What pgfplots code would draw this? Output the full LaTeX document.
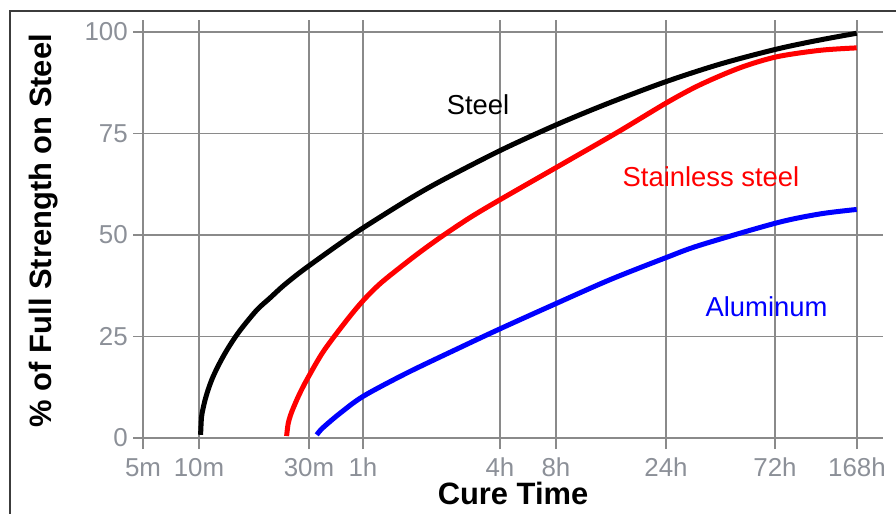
\documentclass[border=0pt]{standalone}
\usepackage{fontspec}
\setmainfont{Liberation Sans}
\usepackage{pgfplots}
\pgfplotsset{compat=1.18}
\definecolor{gridgray}{RGB}{138,138,138}
\definecolor{ticktext}{RGB}{140,144,152}
\definecolor{framegray}{RGB}{60,60,60}

\begin{document}
\begin{tikzpicture}
\useasboundingbox (0,0) rectangle (896bp,-514bp);
\draw[framegray, line width=1.5bp] (10bp,-520bp) -- (10bp,-11bp) -- (900bp,-11bp);
\begin{axis}[
    at={(133bp,-449bp)}, anchor=south west,
    scale only axis,
    x=1bp, y=4.06bp,
    xmin=133, xmax=883,
    ymin=-2.7, ymax=103,
    axis line style={draw=none},
    major tick length=0pt,
    grid=major,
    major grid style={gridgray, line width=1.3bp},
    xtick={143,199,309,363,500,556,666,775,857},
    xticklabels={5m,10m,30m,1h,4h,8h,24h,72h,168h},
    ytick={0,25,50,75,100},
    /pgf/number format/assume math mode=true,
    xticklabel style={anchor=base, inner sep=0pt, yshift=-27bp, text=ticktext,
        font=\fontsize{26}{26}\selectfont},
    yticklabel style={anchor=east, inner sep=0pt, xshift=-5bp, text=ticktext,
        font=\fontsize{26}{26}\selectfont},
    xlabel={Cure Time},
    ylabel={\% of Full Strength on Steel},
    xlabel style={at={(axis description cs:0.5067,-0.1282)}, anchor=base,
        inner sep=0pt, font=\bfseries\fontsize{31}{31}\selectfont},
    ylabel style={at={(axis description cs:-0.108,0.509)}, anchor=base,
        inner sep=0pt, font=\bfseries\fontsize{31}{31}\selectfont},
]

% Steel
\addplot[black, line width=5bp, smooth] coordinates {
    (200.6,0.8) (201.5,5.1) (203,7.2) (205,9.3) (208,11.8) (212,14.5)
    (217,17.2) (223,20.0) (230,22.9) (240,26.5) (256.7,31.5) (270,34.5)
    (283.3,37.5) (300,40.8) (320,44.4) (340,47.9) (363.3,51.8)
    (406.7,58.5) (440,63.2) (500,70.8) (556.7,77.2) (606.7,82.3)
    (665,87.7) (720,92.1) (776.7,95.8) (820,98.05) (856.7,99.7)
};

% Stainless steel
\addplot[red, line width=5bp, smooth] coordinates {
    (286.6,0.5) (288.2,3.6) (290.5,5.6) (293.3,7.4) (299,10.6) (306.7,14.3)
    (323.3,21.3) (346.7,29.0) (363.3,33.9) (380,38.0) (400,42.0)
    (420,45.8) (442,49.7) (470,54.3) (500,58.7) (556.7,66.7)
    (616.7,75.2) (666.7,82.6) (700,87.0) (740,91.2) (776.7,93.9)
    (820,95.5) (856.7,96.1)
};

% Aluminum
\addplot[blue, line width=5bp, smooth] coordinates {
    (316.7,0.8) (320,1.8) (325,3.0) (340,6.1) (363.3,10.3) (406.7,16.0)
    (456.7,21.9) (500,26.9) (556.7,33.2) (610,39.0) (666.7,44.5)
    (700,47.5) (776.7,53.0) (820,55.2) (856.7,56.3)
};

\node[anchor=base, font=\fontsize{27.5}{30}\selectfont] at (axis cs:478,79.6) {Steel};
\node[anchor=base, red, font=\fontsize{27.5}{30}\selectfont] at (axis cs:711,61.9) {Stainless steel};
\node[anchor=base, blue, font=\fontsize{27.5}{30}\selectfont] at (axis cs:766.5,29.9) {Aluminum};

\end{axis}
\end{tikzpicture}
\end{document}
